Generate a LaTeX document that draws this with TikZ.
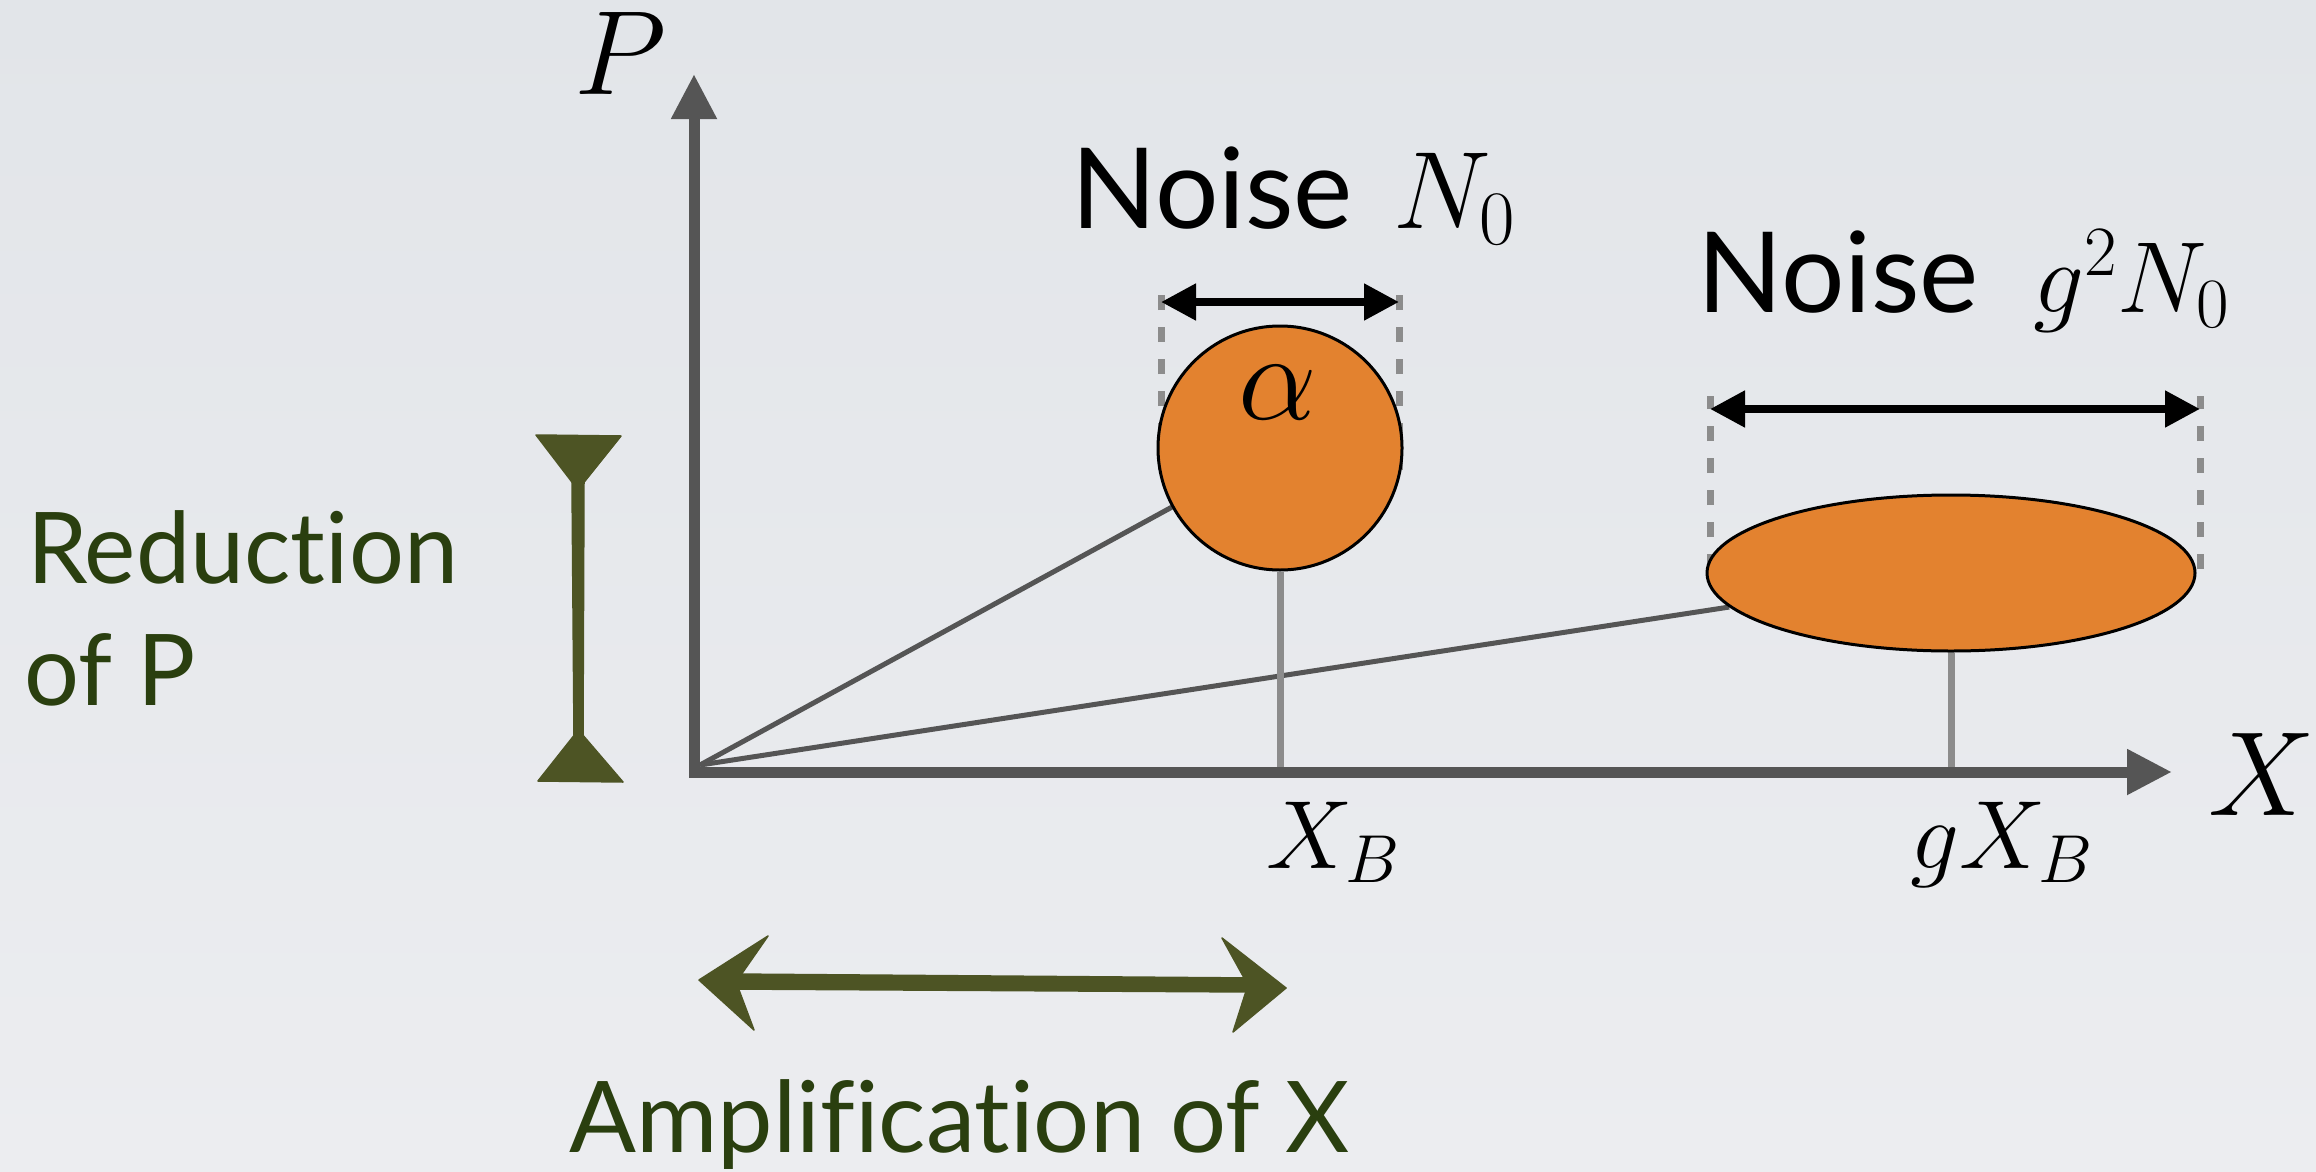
\RequirePackage{fix-cm}
\documentclass[tikz,border=0pt]{standalone}
\usepackage{fontspec}
\setmainfont{Lato}[Ligatures=NoCommon]
\newfontfamily\greenfont{Lato}[Ligatures=NoCommon, FakeStretch=0.98]
\usetikzlibrary{shapes.geometric,arrows.meta}
\definecolor{bgtop}{HTML}{E2E5E9}
\definecolor{bgbot}{HTML}{ECEDF0}
\definecolor{axisgray}{HTML}{555555}
\definecolor{guidegray}{HTML}{8C8C8C}
\definecolor{blobfill}{HTML}{E3822F}
\definecolor{olivearrow}{HTML}{4D5424}
\definecolor{labelgreen}{HTML}{2A3F0F}
\pgfdeclarelayer{back}
\pgfsetlayers{back,main}
\tikzset{
  axisline/.style={draw=axisgray, line width=11pt, line join=miter,
    {Triangle[length=45pt,width=43pt]}-{Triangle[length=45pt,width=43pt]}},
  ray/.style={draw=axisgray, line width=5pt},
  guide/.style={draw=guidegray, line width=7pt},
  dashguide/.style={draw=guidegray, line width=7pt, dash pattern=on 15pt off 17pt},
  span/.style={draw=black, line width=8pt,
    {Triangle[length=35pt,width=35pt]}-{Triangle[length=35pt,width=35pt]}},
  blob/.style={fill=blobfill, draw=black, line width=3pt, inner sep=0pt},
  noisetxt/.style={anchor=base west, inner sep=0pt, font=\fontsize{112}{130}\selectfont},
  mathbig/.style={inner sep=0pt, font=\fontsize{120}{130}\selectfont},
  mathmid/.style={anchor=base west, inner sep=0pt, font=\fontsize{97}{110}\selectfont},
  greentxt/.style={anchor=base west, inner sep=0pt, text=labelgreen, font=\fontsize{99}{120}\selectfont},
  redtxt/.style={greentxt, font=\greenfont\fontsize{99}{120}\selectfont},
  handarrow/.style={fill=olivearrow, draw=olivearrow, line width=1.5pt, line join=round}
}
\begin{document}
\begin{tikzpicture}[x=1pt,y=-1pt]
\useasboundingbox (0,0) rectangle (2316,1172);
\begin{pgfonlayer}{back}
\shade[top color=bgtop, bottom color=bgbot] (0,0) rectangle (2316,1172);
\end{pgfonlayer}

% axes
\coordinate (O) at (694,772);
\coordinate (Ptip) at (694,74);
\coordinate (Xtip) at (2172,772);
\coordinate (R) at (700,765);

% blobs
\node[blob, circle, minimum size=244pt] (c) at (1280,448) {};
\node[blob, ellipse, minimum width=488pt, minimum height=156pt] (e) at (1951,573) {};
\node[inner sep=0pt, font=\fontsize{125}{130}\selectfont] (alpha) at (1278,393) {$\alpha$};

\begin{pgfonlayer}{back}
% dashed guides
\coordinate (cdl1) at (1161,470); \coordinate (cdl2) at (1161,295);
\coordinate (cdr1) at (1399,470); \coordinate (cdr2) at (1399,295);
\coordinate (edl1) at (1710,569); \coordinate (edl2) at (1710,396);
\coordinate (edr1) at (2200,569); \coordinate (edr2) at (2200,396);
\draw[dashguide] (cdl1) -- (cdl2);
\draw[dashguide] (cdr1) -- (cdr2);
\draw[dashguide] (edl1) -- (edl2);
\draw[dashguide] (edr1) -- (edr2);
% rays and drop lines
\draw[ray] (R) -- (c);
\draw[ray] (R) -- (e);
\draw[guide] (c.south) -- (c.south |- O);
\draw[guide] (e.south) -- (e.south |- O);
\end{pgfonlayer}

\draw[axisline] (Ptip) -- (O) -- (Xtip);

% span arrows
\coordinate (cs1) at (1161,302); \coordinate (cs2) at (1399,302);
\coordinate (es1) at (1710,409); \coordinate (es2) at (2200,409);
\draw[span] (cs1) -- (cs2);
\draw[span] (es1) -- (es2);

% labels
\node[mathbig, anchor=base] (Plab) at (621,95) {$P$};
\node[mathbig, anchor=base] (Xlab) at (2262,815) {$X$};
\node[mathmid] (xb) at (1266,868) {$X_B$};
\node[mathmid] (gxb) at (1910,868) {$gX_B$};
\node[noisetxt] (n1) at (1071,228) {Noise};
\node[anchor=base west, inner sep=0pt, font=\fontsize{110}{130}\selectfont] (n1m) at (1393,228) {$N_0$};
\node[noisetxt] (n2) at (1697,312) {Noise};
\node[anchor=base west, inner sep=0pt, font=\fontsize{101}{120}\selectfont] (n2m) at (2033,312) {$g^2N_0$};
\node[redtxt] (red1) at (27,583) {Reduction};
\node[redtxt] (red2) at (24,705) {of P};
\node[greentxt] (amp) at (569,1152) {Amplification of X};

% hand-drawn vertical arrow (reduction)
\fill[handarrow] (536,435) -- (621,436) -- (581,486) -- (575,486) -- cycle;
\fill[handarrow] (538,781) -- (623,782) -- (581,733) -- (576,733) -- cycle;
\fill[handarrow] (572,482) -- (584,482) -- (583,736) -- (574,736) -- cycle;

% hand-drawn horizontal arrow (amplification)
\fill[handarrow] (699,980) -- (768,936) -- (736,982) -- (754,1030) -- cycle;
\fill[handarrow] (1286,988) -- (1222,938) -- (1248,985) -- (1233,1032) -- cycle;
\fill[handarrow] (730,974) -- (1255,978) -- (1255,992) -- (730,989) -- cycle;
\end{tikzpicture}
\end{document}
